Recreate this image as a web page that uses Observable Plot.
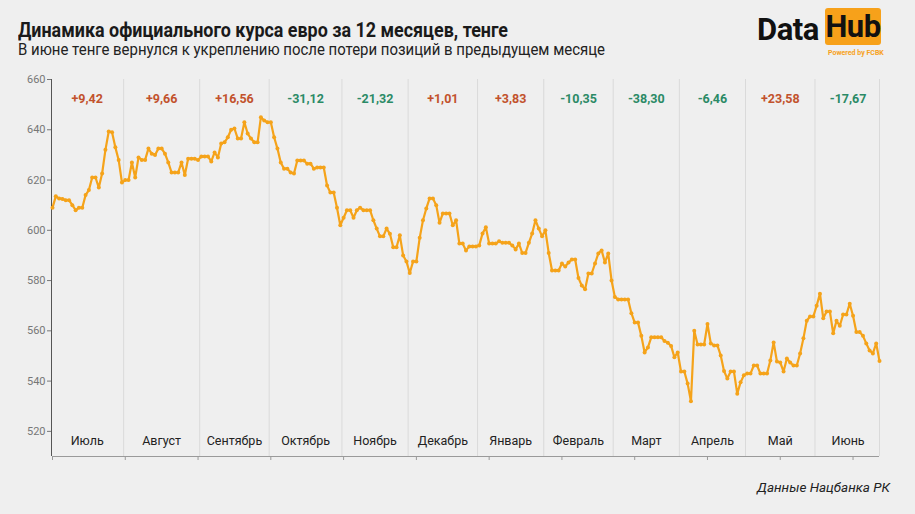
<!DOCTYPE html>
<html>
<head>
<meta charset="utf-8">
<script src="https://cdn.jsdelivr.net/npm/d3@7"></script>
<script src="https://cdn.jsdelivr.net/npm/@observablehq/plot@0.6"></script>
<style>
  html, body { margin: 0; padding: 0; background: #efefef; }
  body { width: 915px; height: 514px; overflow: hidden; font-family: Roboto, "Noto Sans", sans-serif; }
  #head { position: relative; height: 66px; }
  #title { position: absolute; left: 18px; top: 18px; font-size: 20px; font-weight: 700; color: #1a1a1a; white-space: nowrap; transform-origin: left top; }
  #subtitle { position: absolute; left: 18px; top: 40px; font-size: 16.5px; color: #222; white-space: nowrap; transform-origin: left top; }
  #logo { position: absolute; left: 757px; top: 8px; width: 140px; height: 56px; }
  #logo .data { position: absolute; left: 0; top: 3px; font-size: 31px; font-weight: 700; color: #111; letter-spacing: -0.5px; }
  #logo .hub { position: absolute; left: 68px; top: 0; width: 56px; height: 37px; background: #f7a11a; border-radius: 3px; font-size: 31px; font-weight: 700; color: #111; text-align: center; line-height: 38px; letter-spacing: -0.5px; }
  #logo .pw { position: absolute; left: 71px; top: 41px; font-size: 7px; font-weight: 700; color: #f7a11a; white-space: nowrap; }
  #caption { position: absolute; right: 25px; top: 479px; font-size: 13.5px; font-style: italic; color: #222; }
</style>
</head>
<body>
<div id="head">
  <div id="title">Динамика официального курса евро за 12 месяцев, тенге</div>
  <div id="subtitle">В июне тенге вернулся к укреплению после потери позиций в предыдущем месяце</div>
  <div id="logo"><span class="data">Data</span><span class="hub">Hub</span><span class="pw">Powered by FCBK</span></div>
</div>
<div id="chart"></div>
<div id="caption">Данные Нацбанка РК</div>
<script>
const months = ["Июль","Август","Сентябрь","Октябрь","Ноябрь","Декабрь","Январь","Февраль","Март","Апрель","Май","Июнь"];
const changes = ["+9,42","+9,66","+16,56","-31,12","-21,32","+1,01","+3,83","-10,35","-38,30","-6,46","+23,58","-17,67"];
const yTicks = [520, 540, 560, 580, 600, 620, 640, 660];

const jul = [609, 613.5, 612.7, 612.5, 612, 612, 610, 608, 609, 609, 614, 616, 621, 621, 617, 622.6, 632, 639.3, 639, 633, 628, 619];
const aug = [620, 620, 627, 621, 629, 628, 628, 632.5, 630.5, 630, 632.5, 632.5, 630.5, 627, 623, 623, 623, 627, 622, 628.5, 628.5, 628.5, 628];
const sep = [629.4, 629.4, 629.4, 627.4, 631, 629, 634.5, 635, 637, 640, 640.5, 636.5, 636.5, 643, 638.5, 636.5, 635, 635, 645, 643.7, 643];
const oct = [643, 637, 632.5, 627, 624.5, 624.5, 623, 622.6, 627.8, 627.8, 627.8, 626.5, 626.5, 624.5, 625, 625, 625, 617.8, 615, 615, 609, 602];
const nov = [605, 608, 608, 605, 608, 609, 608, 608, 608, 604, 600.7, 597.6, 597.6, 600.7, 598.6, 593.3, 593.3, 598, 590, 587.6];
const dec = [583, 587.6, 587.6, 597, 604, 608.7, 612.7, 612.7, 610, 603, 606.7, 606.7, 606.7, 602, 604, 594.7, 594.7, 592, 593.6, 593.6, 593.6];
const jan = [594, 598.7, 601.2, 594.7, 594.7, 594.7, 595.6, 595, 595, 595, 594, 592.4, 594.7, 591, 591, 595, 598.7, 604, 600.7, 597.6];
const feb = [600, 591, 584, 584, 584, 586.8, 585.6, 587.2, 588.4, 588.4, 581, 578, 576.5, 582.8, 582.8, 586.8, 590.8, 592, 587.2, 590.8, 580];
const mar = [573.5, 572.5, 572.5, 572.5, 572.5, 567, 563.3, 563.3, 558, 551.4, 553.4, 557.4, 557.4, 557.4, 557.4, 556, 555.3, 554, 549.5, 551.4];
const apr = [543.8, 543.8, 539, 532, 560, 554.6, 554.6, 554.6, 562.7, 555, 554.2, 554.2, 550.2, 544, 541, 543.8, 543.8, 535, 539.5, 542.3];
const may = [543, 543, 546.2, 546.2, 543, 543, 543, 548.2, 555.4, 547.8, 547.4, 543.8, 549, 547.4, 546.2, 546.2, 551, 557, 564, 565.7, 565.7];
const jun = [570, 574.8, 565, 567.7, 567.7, 559, 564, 562, 566.5, 566.5, 570.8, 566, 559.5, 559.5, 558, 555, 552.2, 551, 555, 548];

const series = [jul, aug, sep, oct, nov, dec, jan, feb, mar, apr, may, jun];

const points = [];
const segs = [];
let idx = 0;
series.forEach((arr, m) => {
  const start = idx;
  arr.forEach(v => points.push({i: idx++, v}));
  const end = idx - 1;
  segs.push({m: months[m], c: changes[m], pos: !changes[m].startsWith("-"), x0: start - 0.5, x1: end + 0.5, mid: (start + end) / 2});
});
const lastIdx = idx - 1;
const seps = segs.map(s => Math.min(s.x1, lastIdx));

const orange = "#f5a31a";

const chart = Plot.plot({
  width: 915,
  height: 400,
  marginLeft: 52,
  marginRight: 36,
  marginTop: 13,
  marginBottom: 10,
  style: {background: "#efefef", fontFamily: "Roboto, sans-serif", fontSize: "11px", overflow: "visible"},
  x: {domain: [0, lastIdx], label: null},
  y: {domain: [510, 660], label: null},
  marks: [
    Plot.ruleX(seps, {y1: 510, y2: 660, stroke: "#dadada", strokeWidth: 1}),
    Plot.ruleY([510], {stroke: "#9a9a9a", strokeWidth: 1}),
    Plot.ruleX([0], {y1: 510, y2: 660, stroke: "#555", strokeWidth: 1, dx: -1}),
    Plot.axisY({ticks: yTicks, tickSize: 4, tickPadding: 2, color: "#777", fontSize: 11, dx: -1, label: null}),
    Plot.axisX({ticks: d3.range(0, lastIdx + 1, 22), tickFormat: () => "", tickSize: 4, stroke: "#9a9a9a", label: null}),
    Plot.text(segs, {x: "mid", y: 510, text: "m", dy: -16, fill: "#222", fontSize: 12.5}),
    Plot.text(segs, {x: "mid", y: 660, text: "c", dy: 19, fill: d => d.pos ? "#c2522c" : "#2b8a66", fontSize: 12.5, fontWeight: 700}),
    Plot.line(points, {x: "i", y: "v", stroke: orange, strokeWidth: 2.2}),
    Plot.dot(points, {x: "i", y: "v", r: 2, fill: orange, stroke: "none"})
  ]
});
document.getElementById("chart").appendChild(chart);

function fit(id, w) {
  const el = document.getElementById(id);
  const bw = el.getBoundingClientRect().width;
  if (bw > 0) el.style.transform = `scaleX(${w / bw})`;
}
fit("title", 490);
fit("subtitle", 587);
</script>
</body>
</html>
